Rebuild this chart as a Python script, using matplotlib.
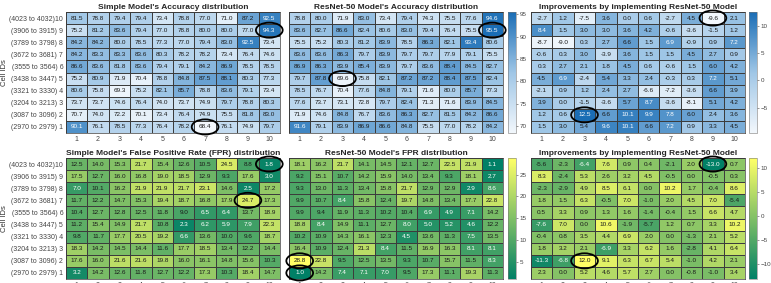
import numpy as np
import matplotlib
matplotlib.use("Agg")
import matplotlib.pyplot as plt
from matplotlib.colors import LinearSegmentedColormap, Normalize
from matplotlib.patches import Ellipse

plt.rcParams["font.family"] = ["Liberation Sans", "DejaVu Sans"]

# rows listed top (cell 10) to bottom (cell 1), columns 1..10
ROW_LABELS = [
    "(4023 to 4032)10", "(3906 to 3915) 9", "(3789 to 3798) 8", "(3672 to 3681) 7",
    "(3555 to 3564) 6", "(3438 to 3447) 5", "(3321 to 3330) 4", "(3204 to 3213) 3",
    "(3087 to 3096) 2", "(2970 to 2979) 1",
]
COL_LABELS = [str(i) for i in range(1, 11)]

simple_acc = [
    [81.5, 78.8, 79.4, 79.4, 73.4, 78.8, 77.0, 71.0, 87.2, 92.5],
    [75.2, 81.2, 83.6, 79.4, 77.0, 78.8, 80.0, 80.0, 77.0, 94.3],
    [84.2, 84.2, 80.0, 78.5, 77.3, 77.0, 79.4, 83.0, 92.5, 73.4],
    [84.2, 83.3, 83.3, 83.6, 80.3, 78.2, 78.2, 73.4, 76.4, 74.6],
    [86.6, 83.6, 81.8, 83.6, 79.4, 79.1, 84.2, 86.9, 78.5, 78.5],
    [75.2, 80.9, 71.9, 70.4, 78.8, 84.8, 87.5, 88.1, 80.3, 77.3],
    [80.6, 75.8, 69.3, 75.2, 82.1, 85.7, 78.8, 83.6, 79.1, 73.4],
    [73.7, 73.7, 74.6, 76.4, 74.0, 73.7, 74.9, 79.7, 78.8, 80.3],
    [70.7, 74.0, 72.2, 70.1, 73.4, 76.4, 74.9, 75.5, 81.8, 83.0],
    [90.1, 76.1, 78.5, 77.3, 76.4, 78.2, 68.4, 76.1, 74.9, 79.7],
]
resnet_acc = [
    [78.8, 80.0, 71.9, 83.0, 73.4, 79.4, 74.3, 75.5, 77.6, 94.6],
    [83.6, 82.7, 86.6, 82.4, 80.6, 83.0, 79.4, 76.4, 75.5, 95.5],
    [75.5, 75.2, 80.3, 81.2, 83.9, 78.5, 86.3, 82.1, 93.4, 80.6],
    [83.6, 83.6, 86.3, 79.7, 83.9, 79.7, 79.7, 77.9, 79.1, 75.5],
    [86.9, 86.3, 83.9, 85.4, 83.9, 79.7, 83.6, 88.4, 84.5, 82.7],
    [79.7, 87.8, 69.6, 75.8, 82.1, 87.2, 87.2, 88.4, 87.5, 82.4],
    [78.5, 76.7, 70.4, 77.6, 84.8, 79.1, 71.6, 80.0, 85.7, 77.3],
    [77.6, 73.7, 73.1, 72.8, 79.7, 82.4, 71.3, 71.6, 83.9, 84.5],
    [71.9, 74.6, 84.8, 76.7, 83.6, 86.3, 82.7, 81.5, 84.2, 86.6],
    [91.6, 79.1, 83.9, 86.9, 86.6, 84.8, 75.5, 77.0, 78.2, 84.2],
]
impr_acc = [
    [-2.7, 1.2, -7.5, 3.6, 0.0, 0.6, -2.7, 4.5, -9.6, 2.1],
    [8.4, 1.5, 3.0, 3.0, 3.6, 4.2, -0.6, -3.6, -1.5, 1.2],
    [-8.7, -9.0, 0.3, 2.7, 6.6, 1.5, 6.9, -0.9, 0.9, 7.2],
    [-0.6, 0.3, 3.0, -3.9, 3.6, 1.5, 1.5, 4.5, 2.7, 0.9],
    [0.3, 2.7, 2.1, 1.8, 4.5, 0.6, -0.6, 1.5, 6.0, 4.2],
    [4.5, 6.9, -2.4, 5.4, 3.3, 2.4, -0.3, 0.3, 7.2, 5.1],
    [-2.1, 0.9, 1.2, 2.4, 2.7, -6.6, -7.2, -3.6, 6.6, 3.9],
    [3.9, 0.0, -1.5, -3.6, 5.7, 8.7, -3.6, -8.1, 5.1, 4.2],
    [1.2, 0.6, 12.5, 6.6, 10.1, 9.9, 7.8, 6.0, 2.4, 3.6],
    [1.5, 3.0, 5.4, 9.6, 10.1, 6.6, 7.2, 0.9, 3.3, 4.5],
]
simple_fpr = [
    [12.5, 14.0, 15.3, 21.7, 15.4, 12.6, 10.5, 24.5, 8.8, 1.8],
    [17.5, 12.7, 16.0, 16.8, 19.0, 18.5, 12.9, 9.3, 17.6, 3.0],
    [7.0, 10.1, 16.2, 21.9, 21.9, 21.7, 23.1, 14.6, 2.5, 17.2],
    [11.7, 12.2, 14.7, 15.3, 19.4, 18.7, 16.8, 17.9, 24.7, 17.3],
    [10.4, 12.7, 12.8, 12.5, 11.8, 9.0, 6.5, 6.4, 13.7, 18.9],
    [11.2, 15.4, 14.9, 21.7, 10.8, 2.3, 6.2, 5.9, 7.9, 22.3],
    [9.8, 11.7, 17.7, 20.5, 19.2, 6.6, 13.6, 10.0, 9.6, 18.7],
    [18.3, 14.2, 14.5, 14.4, 11.6, 17.7, 18.5, 13.4, 12.2, 14.4],
    [17.6, 16.0, 21.6, 21.6, 19.8, 16.0, 16.1, 14.8, 15.6, 10.3],
    [3.2, 14.2, 12.6, 11.8, 12.7, 12.2, 17.3, 10.3, 18.4, 14.7],
]
resnet_fpr = [
    [18.1, 16.2, 21.7, 14.1, 14.5, 12.1, 12.7, 22.5, 21.9, 1.1],
    [9.2, 15.1, 10.7, 14.2, 15.9, 14.0, 13.4, 9.3, 18.1, 2.7],
    [9.3, 13.0, 11.3, 13.4, 15.8, 21.7, 12.9, 12.9, 2.9, 8.6],
    [9.9, 10.7, 8.4, 15.8, 12.4, 19.7, 14.8, 13.4, 17.7, 22.8],
    [9.9, 9.4, 11.9, 11.3, 10.2, 10.4, 6.9, 4.9, 7.1, 14.2],
    [18.8, 8.4, 14.9, 11.1, 12.7, 8.0, 5.0, 5.2, 4.6, 12.2],
    [10.2, 10.9, 14.3, 16.1, 12.3, 4.5, 13.6, 11.3, 7.5, 13.5],
    [16.4, 10.9, 12.4, 21.3, 8.4, 11.5, 16.9, 16.3, 8.1, 8.1],
    [28.8, 22.8, 9.5, 12.5, 13.5, 9.3, 10.7, 15.7, 11.5, 8.3],
    [1.0, 14.2, 7.4, 7.1, 7.0, 9.5, 17.3, 11.1, 19.3, 11.3],
]
impr_fpr = [
    [-5.6, -2.3, -6.4, 7.6, 0.9, 0.4, -2.1, 2.0, -13.0, 0.7],
    [8.3, -2.4, 5.3, 2.6, 3.2, 4.5, -0.5, 0.0, -0.5, 0.3],
    [-2.3, -2.9, 4.9, 8.5, 6.1, 0.0, 10.2, 1.7, -0.4, 8.6],
    [1.8, 1.5, 6.3, -0.5, 7.0, -1.0, 2.0, 4.5, 7.0, -5.4],
    [0.5, 3.3, 0.9, 1.3, 1.6, -1.4, -0.4, 1.5, 6.6, 4.7],
    [-7.6, 7.0, 0.0, 10.6, -1.9, -5.7, 1.2, 0.7, 3.3, 10.2],
    [-0.4, 0.8, 3.5, 4.4, 6.9, 2.0, 0.0, -1.3, 2.1, 5.2],
    [1.8, 3.2, 2.1, -6.9, 3.3, 6.2, 1.6, -2.8, 4.1, 6.4],
    [-11.3, -6.8, 12.0, 9.1, 6.3, 6.7, 5.4, -1.0, 4.2, 2.1],
    [2.3, 0.0, 5.2, 4.6, 5.7, 2.7, 0.0, -0.8, -1.0, 3.4],
]

# highlighted cells: (row index from top, column index)
acc_simple_marks = [(1, 9), (9, 6)]
acc_resnet_marks = [(1, 9), (5, 2)]
acc_impr_marks = [(0, 8), (8, 2)]
fpr_simple_marks = [(0, 9), (3, 8)]
fpr_resnet_marks = [(8, 0), (9, 0)]
fpr_impr_marks = [(0, 8), (8, 2)]

BLUE = LinearSegmentedColormap.from_list("sky", ["#f2f7fc", "#9fc6e6", "#1a6db5"])
GREEN = plt.get_cmap("summer")

W, H = 771, 283
fig = plt.figure(figsize=(W / 100, H / 100), dpi=100)


def px_axes(x0, y0, x1, y1):
    return fig.add_axes([x0 / W, 1 - y1 / H, (x1 - x0) / W, (y1 - y0) / H])


def heat(ax, data, cmap, norm, title, marks, white_if, ylabels=False):
    arr = np.array(data)
    ny, nx = arr.shape
    ypos = np.arange(ny, 0, -1)  # top row -> 10
    ax.pcolormesh(np.arange(0.5, nx + 1), np.arange(0.5, ny + 1), arr[::-1],
                  cmap=cmap, norm=norm, edgecolors="#3c3c3c", linewidth=0.45)
    for i in range(ny):
        for j in range(nx):
            v = arr[i, j]
            c = "white" if white_if(norm(v)) else "#1a1a1a"
            ax.text(j + 1, ypos[i], f"{v:.1f}", ha="center", va="center",
                    fontsize=4.6, color=c)
    for (i, j) in marks:
        ax.add_patch(Ellipse((j + 1, ypos[i]), 1.25, 1.25, fill=False,
                             ec="black", lw=1.3, clip_on=False, zorder=5))
    ax.set_xlim(0.5, nx + 0.5)
    ax.set_ylim(0.5, ny + 0.5)
    ax.set_xticks(np.arange(1, nx + 1))
    ax.set_xticklabels(COL_LABELS)
    if ylabels:
        ax.set_yticks(ypos)
        ax.set_yticklabels(ROW_LABELS)
        ax.set_ylabel("Cell IDs", fontsize=5.5, color="#333333", labelpad=1)
    else:
        ax.set_yticks([])
    ax.tick_params(length=0, labelsize=5, colors="#444444", pad=2)
    for s in ax.spines.values():
        s.set_color("#3c3c3c")
        s.set_linewidth(0.5)
    ax.set_title(title, fontsize=6, fontweight="bold", color="#262626", pad=2)


def cbar(mappable_norm, cmap, x0, y0, x1, y1, ticks):
    cax = px_axes(x0, y0, x1, y1)
    sm = plt.cm.ScalarMappable(norm=mappable_norm, cmap=cmap)
    cb = fig.colorbar(sm, cax=cax, ticks=ticks)
    cb.outline.set_linewidth(0.4)
    cb.outline.set_edgecolor("#777777")
    cax.tick_params(labelsize=4.5, length=1.5, width=0.4, colors="#444444", pad=1)
    return cb


all_acc = np.array(simple_acc + resnet_acc)
n_acc = Normalize(all_acc.min(), all_acc.max())
n_iacc = Normalize(np.min(impr_acc), np.max(impr_acc))
all_fpr = np.array(simple_fpr + resnet_fpr)
n_fpr = Normalize(all_fpr.min(), all_fpr.max())
n_ifpr = Normalize(np.min(impr_fpr), np.max(impr_fpr))

blue_white = lambda t: t > 0.74
green_white = lambda t: t < 0.277

top = (12, 133)
bot = (158, 279)
cols = [(66, 280), (289, 503), (531, 745)]

ax = px_axes(cols[0][0], top[0], cols[0][1], top[1])
heat(ax, simple_acc, BLUE, n_acc, "Simple Model's Accuracy distribution",
     acc_simple_marks, blue_white, ylabels=True)
ax = px_axes(cols[1][0], top[0], cols[1][1], top[1])
heat(ax, resnet_acc, BLUE, n_acc, "ResNet-50 Model's Accuracy distribution",
     acc_resnet_marks, blue_white)
cbar(n_acc, BLUE, 508, top[0], 516, top[1], [70, 75, 80, 85, 90, 95])
ax = px_axes(cols[2][0], top[0], cols[2][1], top[1])
heat(ax, impr_acc, BLUE, n_iacc, "Improvements by implementing ResNet-50 Model",
     acc_impr_marks, blue_white)
cbar(n_iacc, BLUE, 749, top[0], 757, top[1], [-5, 0, 5, 10])

ax = px_axes(cols[0][0], bot[0], cols[0][1], bot[1])
heat(ax, simple_fpr, GREEN, n_fpr, "Simple Model's False Positive Rate (FPR) distribution",
     fpr_simple_marks, green_white, ylabels=True)
ax = px_axes(cols[1][0], bot[0], cols[1][1], bot[1])
heat(ax, resnet_fpr, GREEN, n_fpr, "ResNet-50 Model's FPR distribution",
     fpr_resnet_marks, green_white)
cbar(n_fpr, GREEN, 508, bot[0], 516, bot[1], [5, 10, 15, 20, 25])
ax = px_axes(cols[2][0], bot[0], cols[2][1], bot[1])
heat(ax, impr_fpr, GREEN, n_ifpr, "Improvements by implementing ResNet-50 Model",
     fpr_impr_marks, green_white)
cbar(n_ifpr, GREEN, 749, bot[0], 757, bot[1], [-10, -5, 0, 5, 10])

fig.savefig("out.png", dpi=100)
